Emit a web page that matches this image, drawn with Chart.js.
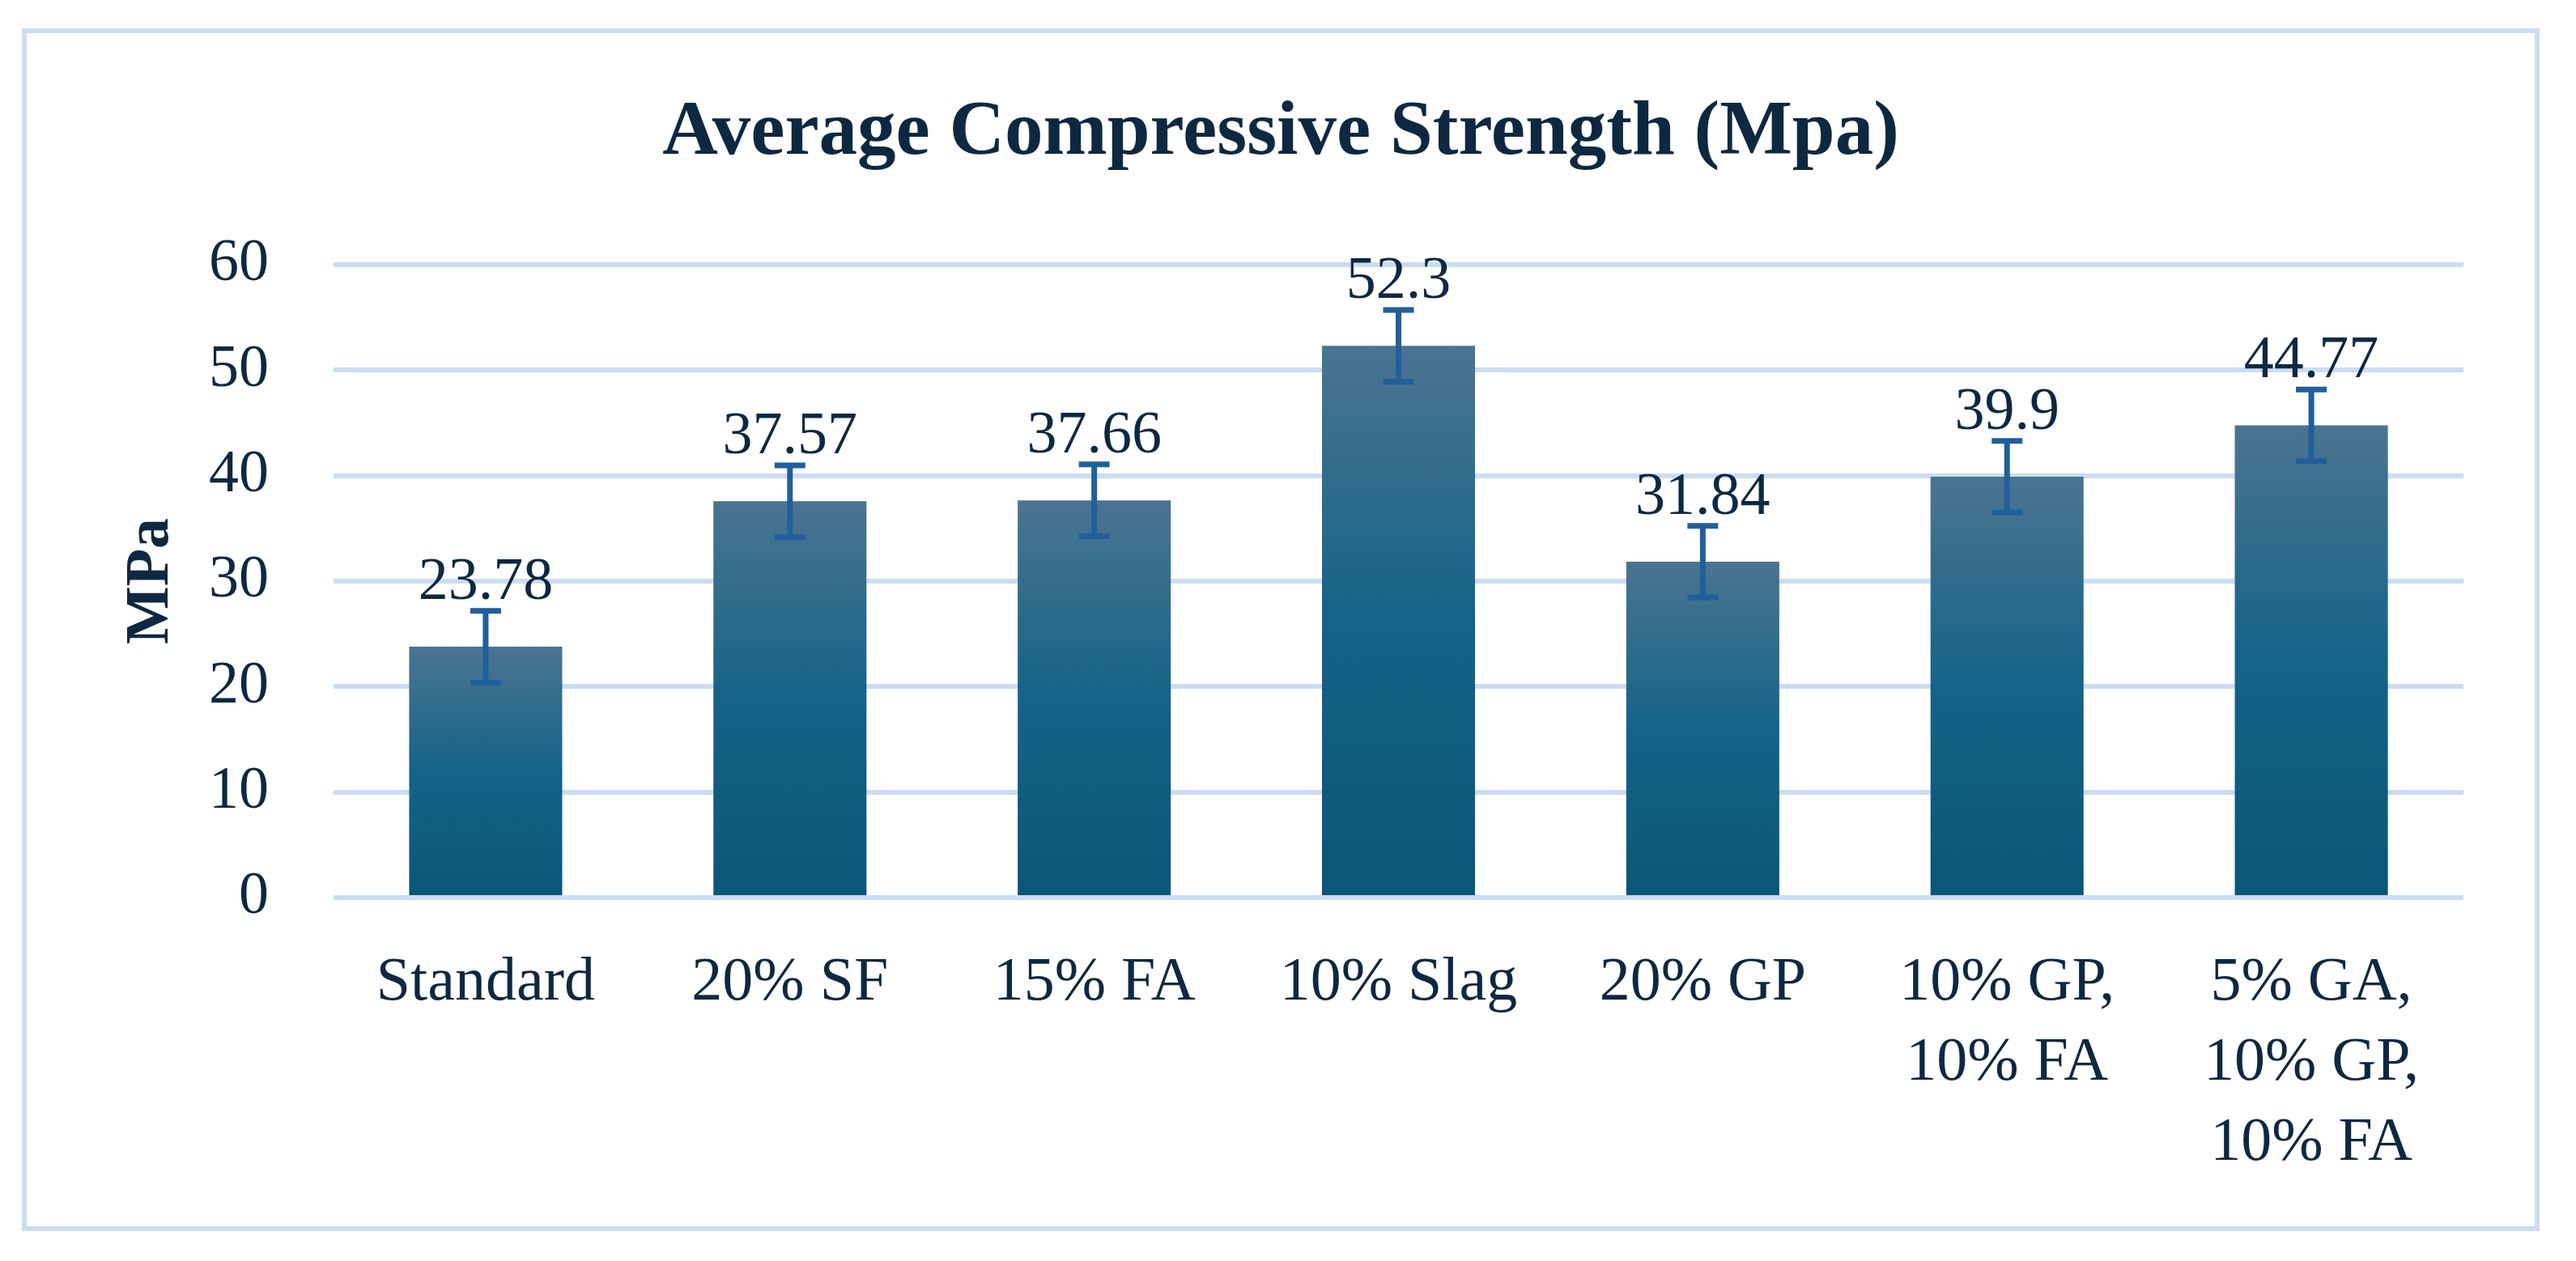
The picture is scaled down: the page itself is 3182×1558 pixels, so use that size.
<!DOCTYPE html>
<html>
<head>
<meta charset="utf-8">
<script src="https://cdn.jsdelivr.net/npm/chart.js@4.4.1/dist/chart.umd.min.js"></script>
<style>
  html, body { margin: 0; padding: 0; background: #ffffff; }
  body { width: 3182px; height: 1558px; position: relative; overflow: hidden; }
  #frame { position: absolute; left: 27px; top: 35px; width: 3110px; height: 1486px;
           box-sizing: border-box; border: 6px solid #CADDF2; }
  #c { position: absolute; left: 0; top: 0; width: 3182px; height: 1558px; }
</style>
</head>
<body>
<div id="frame"></div>
<canvas id="c" width="3182" height="1558"></canvas>
<script>
// ---- data ----
const categories = [
  "Standard",
  "20% SF",
  "15% FA",
  "10% Slag",
  "20% GP",
  ["10% GP,", "10% FA"],
  ["5% GA,", "10% GP,", "10% FA"]
];
const strengthValues = [23.78, 37.57, 37.66, 52.3, 31.84, 39.9, 44.77];
const errorValues = [3.4, 3.4, 3.4, 3.4, 3.4, 3.4, 3.4];
const yTicks = [0, 10, 20, 30, 40, 50, 60];
const chartTitle = "Average Compressive Strength (Mpa)";
const yAxisTitle = "MPa";

// ---- styles ----
const TEXT = "#0E2841";
const GRID = "#CADDF2";
const ERR = "#215F9B";
const FAMILY = "'Liberation Serif', 'Times New Roman', serif";

const errorBarPlugin = {
  id: "errorBars",
  afterDatasetsDraw(chart) {
    const ctx = chart.ctx;
    const y = chart.scales.y;
    const meta = chart.getDatasetMeta(0);
    ctx.save();
    ctx.strokeStyle = ERR;
    ctx.lineWidth = 7;
    ctx.lineCap = "butt";
    meta.data.forEach((bar, i) => {
      const v = strengthValues[i], e = errorValues[i];
      const yt = y.getPixelForValue(v + e);
      const yb = y.getPixelForValue(v - e);
      const x = bar.x;
      const half = 19;
      ctx.beginPath();
      ctx.moveTo(x, yt); ctx.lineTo(x, yb);
      ctx.moveTo(x - half, yt); ctx.lineTo(x + half, yt);
      ctx.moveTo(x - half, yb); ctx.lineTo(x + half, yb);
      ctx.stroke();
    });
    ctx.restore();
  }
};

const valueLabelPlugin = {
  id: "valueLabels",
  afterDatasetsDraw(chart) {
    const ctx = chart.ctx;
    const meta = chart.getDatasetMeta(0);
    ctx.save();
    ctx.fillStyle = TEXT;
    ctx.font = "74px " + FAMILY;
    ctx.textAlign = "center";
    ctx.textBaseline = "alphabetic";
    meta.data.forEach((bar, i) => {
      ctx.fillText(String(strengthValues[i]), bar.x, bar.y - 59);
    });
    ctx.restore();
  }
};

function barGradient(context) {
  const chart = context.chart;
  if (!chart.chartArea || context.type !== "data") return "#146388";
  const y = chart.scales.y;
  const top = y.getPixelForValue(strengthValues[context.dataIndex]);
  const bottom = y.getPixelForValue(0);
  const g = chart.ctx.createLinearGradient(0, top, 0, bottom);
  g.addColorStop(0, "#4B7491");
  g.addColorStop(0.5, "#146388");
  g.addColorStop(1, "#0A5677");
  return g;
}

function build() {
  new Chart(document.getElementById("c"), {
    type: "bar",
    data: {
      labels: categories,
      datasets: [{
        data: strengthValues,
        backgroundColor: barGradient,
        borderWidth: 0,
        barPercentage: 0.503,
        categoryPercentage: 1.0
      }]
    },
    options: {
      responsive: false,
      animation: false,
      devicePixelRatio: 1,
      layout: { padding: { left: 121, right: 139, top: 0, bottom: 0 } },
      plugins: {
        legend: { display: false },
        tooltip: { enabled: false },
        title: {
          display: true,
          text: chartTitle,
          color: TEXT,
          font: { family: FAMILY, size: 95, weight: "bold", lineHeight: 1.2 },
          padding: { top: 108, bottom: 105 }
        }
      },
      scales: {
        x: {
          grid: { display: false, drawTicks: false },
          border: { display: false },
          ticks: {
            color: TEXT,
            autoSkip: false,
            maxRotation: 0,
            minRotation: 0,
            padding: 57,
            font: { family: FAMILY, size: 76, lineHeight: 1.3 }
          },
          afterFit(scale) { scale.height = 1558 - 1109; }
        },
        y: {
          min: 0,
          max: 60,
          afterBuildTicks(scale) { scale.ticks = yTicks.map(v => ({ value: v })); },
          grid: { color: GRID, lineWidth: 6, drawTicks: false },
          border: { display: false },
          ticks: {
            color: TEXT,
            padding: 80,
            font: { family: FAMILY, size: 74 }
          },
          title: {
            display: true,
            text: yAxisTitle,
            color: TEXT,
            font: { family: FAMILY, size: 76, weight: "bold", lineHeight: 1.2 },
            padding: { top: 21, bottom: 0 }
          },
          afterFit(scale) { scale.width = 291; }
        }
      }
    },
    plugins: [errorBarPlugin, valueLabelPlugin]
  });
}

Promise.all([
  document.fonts.load("74px 'Liberation Serif'"),
  document.fonts.load("bold 95px 'Liberation Serif'")
]).then(build, build);
</script>
</body>
</html>
